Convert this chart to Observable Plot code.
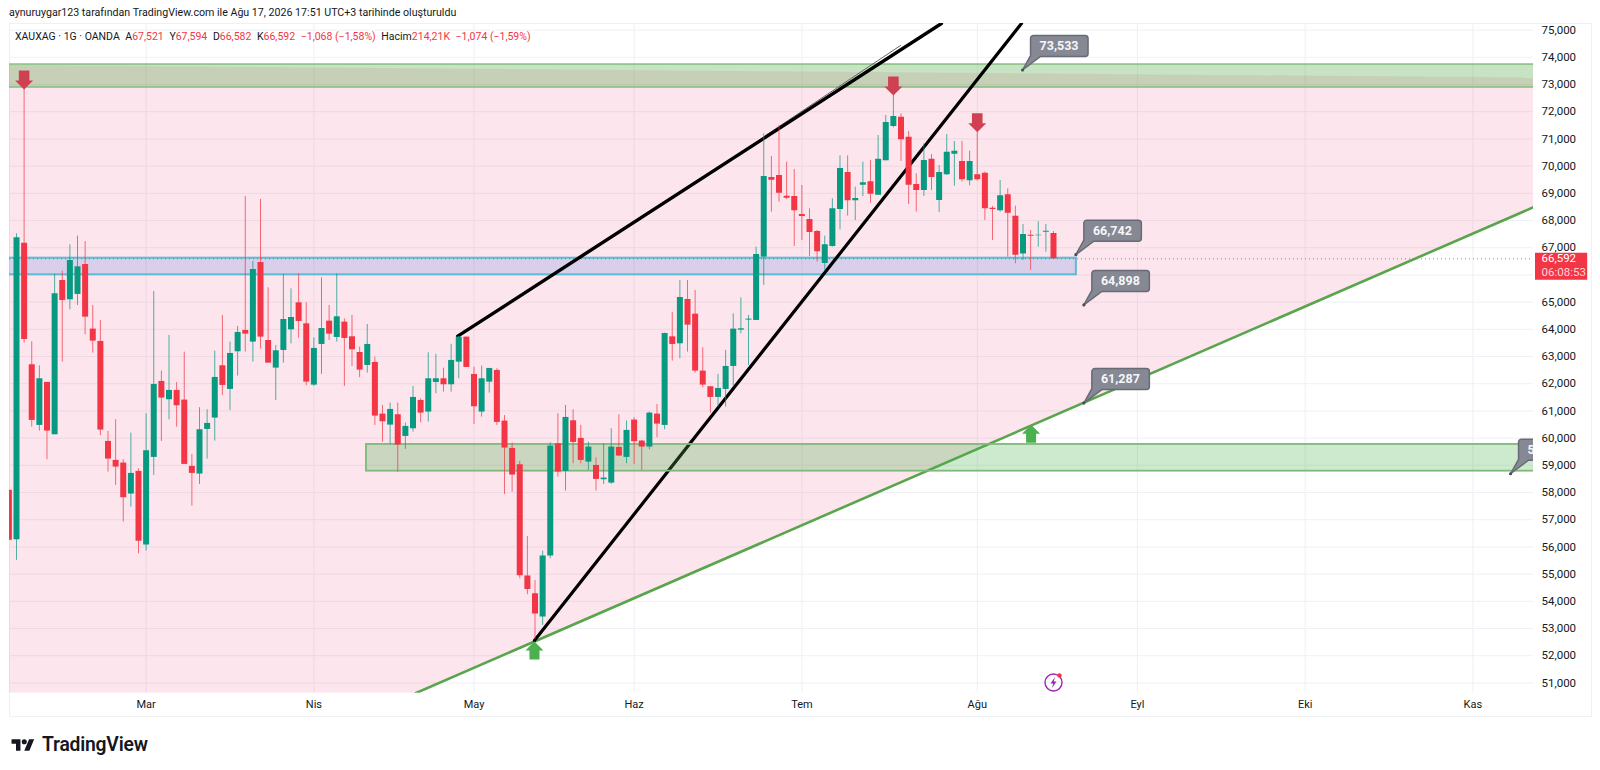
<!DOCTYPE html>
<html lang="tr">
<head>
<meta charset="utf-8">
<title>XAUXAG</title>
<script src="https://cdn.jsdelivr.net/npm/d3@7"></script>
<script src="https://cdn.jsdelivr.net/npm/@observablehq/plot@0.6"></script>
<style>
  html,body{margin:0;padding:0;background:#fff;width:1600px;height:770px;overflow:hidden;font-family:Roboto,sans-serif;color:#131722}
  #credit{position:absolute;left:9px;top:6px;font-size:10.65px;line-height:14px;white-space:nowrap;color:#131722}
  #frame{position:absolute;left:9px;top:23px;width:1583px;height:694px;box-sizing:border-box;border:1px solid #eef0f4;pointer-events:none}
  #chart{position:absolute;left:0;top:23px;width:1600px;height:694px}
  #legend{position:absolute;left:15px;top:30px;font-size:10.5px;line-height:14px;white-space:nowrap;color:#131722}
  #legend b{font-weight:400;color:#f23645}
  #legend span{margin-right:3px}
  #logo{position:absolute;left:11px;top:735px;display:flex;align-items:center;gap:7px;font-size:19.3px;font-weight:600;line-height:20px;letter-spacing:-.2px;color:#131722}
</style>
</head>
<body>
<div id="credit">aynuruygar123 tarafından TradingView.com ile Ağu 17, 2026 17:51 UTC+3 tarihinde oluşturuldu</div>
<div id="frame"></div>
<div id="chart"></div>
<div id="legend"><span>XAUXAG · 1G · OANDA</span> <span>A<b>67,521</b></span> <span>Y<b>67,594</b></span> <span>D<b>66,582</b></span> <span>K<b>66,592</b></span> <span><b>−1,068 (−1,58%)</b></span> <span>Hacim<b>214,21K</b></span> <span><b>−1,074 (−1,59%)</b></span></div>
<div id="logo"><svg width="24" height="14" viewBox="0 2 36 22"><path d="M14 22H7V11H0V4h14v18zM28 22h-8l7.5-18h8L28 22z" fill="#131722"/><circle cx="20" cy="8" r="4" fill="#131722"/></svg><span>TradingView</span></div>
<script>
// Bar index 0 is the first (cut-off) daily bar on the pane; bars are trading days.
const opens = [58080,56265,67167,62696,60466,62046,60123,65795,65085,65281,66383,64007,63553,59878,59180,59082,57943,58776,56069,59290,62083,61410,61753,61397,58960,58678,60319,60736,62659,61789,63174,63958,63529,66456,63589,62573,63222,63981,64974,64202,61948,63443,64300,63700,64263,63724,63148,62671,62781,60882,60478,60858,60062,60343,61384,60956,62046,62181,61960,62793,63712,62340,60956,62058,62487,60625,59620,59020,54927,54277,53420,55662,59792,58775,60637,59988,59118,58996,58469,58346,59657,59290,60662,59890,59670,60882,60466,63724,63467,65096,64557,62463,61887,61495,61789,62634,63969,64337,64325,66653,69581,69655,68895,68883,68221,68038,67597,66421,67046,68405,69765,68724,69300,69422,68932,70194,71455,71798,71063,69324,69104,70255,68736,69679,70439,70169,69459,69679,69741,68454,68356,68944,68160,66764,67462,67437,67572,67521];
const highs = [58080,67510,72850,63541,62659,62046,66016,66138,67106,67424,67228,64876,64325,60246,60674,59205,60185,58874,60895,65391,62463,63774,62046,63161,59400,61116,61042,63198,64509,63529,64105,68882,66493,68772,65525,63406,66015,65488,66040,64974,63688,65893,64876,66040,64386,64508,63345,64177,62977,61201,61287,61287,60552,61899,61446,63136,63075,62573,63443,63737,63712,62609,62646,62560,62548,60833,59817,59143,56385,54767,55845,59829,60895,61201,61042,60466,59853,59278,59792,60343,60858,60625,60748,59915,60956,61238,63859,64618,65795,65795,65427,63320,61899,62340,63222,64570,65157,64508,67021,71186,70353,71492,70145,69875,69287,68430,67633,67425,68797,70378,70378,69226,70145,70206,71125,71860,72595,71921,71272,69716,70818,70427,70022,71162,70904,70904,70549,71247,69777,68516,69471,69165,68528,67854,67633,67952,67854,67594];
const lows = [56240,55505,63492,60405,60258,59205,60123,62794,64717,64876,63798,63125,60087,58751,58261,56914,57465,55750,55848,58629,59878,60674,60405,59033,57502,58298,59229,59890,61569,61018,62279,63161,62794,63272,62756,61385,62756,63467,63675,61924,61899,62340,63590,63528,61899,62634,62217,62389,60466,59853,59767,58751,59584,60221,60564,60588,61630,61691,61691,62181,62597,60503,60772,61654,60466,57930,58016,54831,54241,52599,53114,55564,58567,58053,59057,59057,58812,58053,58298,58298,59339,59057,59032,58812,59572,60012,60306,62830,62916,63161,62389,61850,60919,61139,61139,61874,63835,62671,64325,65612,68307,68675,68760,67046,67266,66678,66470,66163,67021,67658,68160,68001,68883,68638,68920,70194,71406,70169,68589,68307,68883,69104,68295,69655,69263,69410,69275,69447,68001,67266,68307,66653,66409,66531,66163,67021,66837,66582];
const closes = [56240,67363,63627,60650,62181,60258,65305,65060,66530,66297,64447,63566,60295,59229,58935,57808,58702,56203,59535,61973,61471,61753,61189,59033,58702,60307,60540,62230,61936,63112,63884,63823,66199,63713,62756,63210,64361,64435,64288,62058,63296,64030,63822,64459,63663,63247,62499,63443,60809,60600,61054,59743,60429,61495,60919,62181,62181,61960,62855,63712,62597,61152,62181,62560,60576,59633,58641,54941,54437,53530,55662,59706,58751,60760,59841,59180,59670,58481,58530,59670,59339,60282,59866,59670,60919,60515,63847,63443,65170,64153,62463,61948,61495,61825,62634,64006,64018,64374,66751,69618,69483,69006,68822,68356,68148,67560,66850,67107,68430,69912,68724,68810,69385,68969,70255,71603,71823,70965,69300,69104,70206,69581,69765,70512,70549,69496,70169,69496,68430,68405,68908,68271,66727,67486,67425,67462,67609,66592];

const monthBars = [18,40,61,82,104,127,148,170,192];
const monthNames = ["Mar","Nis","May","Haz","Tem","Ağu","Eyl","Eki","Kas"];
const priceTicks = [51000,52000,53000,54000,55000,56000,57000,58000,59000,60000,61000,62000,63000,64000,65000,66000,67000,68000,69000,70000,71000,72000,73000,74000,75000];
const priceLabels = priceTicks.filter(v=>v!==66000); // 66,000 is hidden by the last-price tag
const lastPrice = 66592;
const priceBoxLines = ["66,592","06:08:53"];

const channelBars = [0.082,53.33,199.95];
const channelTop = [73698,73578,73238];
const channelBottom = [50621,50621,68489];

const zoneNames = ["resistance","support box","lower box"];
const zoneFrom = [-2,-2,46.9];
const zoneTo = [202,140.0,202];
const zoneHigh = [73735,66614,59766];
const zoneLow = [72889,66004,58784];

const wedgeUpperBars = [58.87,122.3];
const wedgeUpperPrices = [63747,75243];
const wedgeThinBars = [99.23,116.93];
const wedgeThinPrices = [71125,74433];
const wedgeLowerBars = [68.93,132.8];
const wedgeLowerPrices = [52561,75243];
const trendBars = [53.33,199.95];
const trendPrices = [50621,68489];

const downBars = [2,116,127];
const downPrices = [72816,72595,71247];
const upBars = [68.93,134.06];
const upPrices = [52524,60490];

const noteBars = [132.94,139.93,140.98,140.98,196.94];
const notePrices = [73533,66742,64898,61287,58689];
const noteTexts = ["73,533","66,742","64,898","61,287","58,689"];

const boltBar = [137.0];
const boltPrice = [51017];

const candles = opens.map((o,i)=>({i,o,h:highs[i],l:lows[i],c:closes[i]}));
const up = candles.filter(d=>d.c>=d.o);
const down = candles.filter(d=>d.c<d.o);
const zip = (xs,ys)=>xs.map((x,k)=>({x,y:ys[k]}));
const channel = channelBars.map((x,k)=>({x,t:channelTop[k],b:channelBottom[k]}));
const zones = zoneNames.map((n,k)=>({n,x1:zoneFrom[k],x2:zoneTo[k],y1:zoneLow[k],y2:zoneHigh[k]}));
const notes = noteBars.map((x,k)=>({x,y:notePrices[k],t:noteTexts[k]}));

const RED="#f23645", GREEN="#089981";
const wickOpacity=.72;

const downArrow={draw(c){c.moveTo(0,0);c.lineTo(9,-9);c.lineTo(5.3,-9);c.lineTo(5.3,-19);c.lineTo(-5.3,-19);c.lineTo(-5.3,-9);c.lineTo(-9,-9);c.closePath();}};
const upArrow={draw(c){c.moveTo(0,0);c.lineTo(9,9);c.lineTo(5,9);c.lineTo(5,18);c.lineTo(-5,18);c.lineTo(-5,9);c.lineTo(-9,9);c.closePath();}};
const balloon={draw(c){const l=8,r=65.5,t=-34.5,b=-13.5,q=3;
  c.moveTo(l+q,t);c.lineTo(r-q,t);c.arcTo(r,t,r,t+q,q);c.lineTo(r,b-q);c.arcTo(r,b,r-q,b,q);
  c.lineTo(18,b);c.lineTo(0,0);c.lineTo(l,b-1);c.lineTo(l,t+q);c.arcTo(l,t,l+q,t,q);c.closePath();}};
const priceTag={draw(c){c.rect(1.5,-6,52.2,27);}};
const ring={draw(c){c.moveTo(8.5,0);c.arc(0,0,8.5,0,2*Math.PI);c.closePath();}};
const flash={draw(c){c.moveTo(1.5,-5.5);c.lineTo(-3,1);c.lineTo(-.3,1);c.lineTo(-1.5,5.5);c.lineTo(3,-1);c.lineTo(.3,-1);c.closePath();}};

const sharedFont={fontFamily:"Roboto, sans-serif"};
const paneEnd=199.95;

const plot=Plot.plot({
  width:1600,height:694,
  marginLeft:9,marginRight:67,marginTop:0,marginBottom:24.3,
  style:{background:"transparent",fontFamily:"Roboto, sans-serif"},
  x:{type:"linear",domain:[0.082,paneEnd],label:null,axis:null},
  y:{type:"linear",domain:[50621,75243],label:null,axis:null},
  marks:[
    Plot.gridY(priceTicks,{stroke:"#eef0f5",strokeOpacity:1}),
    Plot.gridX(monthBars,{stroke:"#eef0f5",strokeOpacity:1}),
    Plot.areaY(channel,{x:"x",y1:"b",y2:"t",fill:"#f23a78",fillOpacity:.135,clip:true}),
    Plot.rect(zones.slice(0,1),{x1:"x1",x2:"x2",y1:"y1",y2:"y2",fill:"#4a9e3c",fillOpacity:.3,stroke:"#7cbb74",strokeOpacity:.85,strokeWidth:1.6,clip:true}),
    Plot.rect(zones.slice(1,2),{x1:"x1",x2:"x2",y1:"y1",y2:"y2",fill:"#3f6fe0",fillOpacity:.19,stroke:"#5cbcd4",strokeWidth:2,clip:true}),
    Plot.ruleY([lastPrice],{stroke:RED,strokeOpacity:.8,strokeWidth:1,strokeDasharray:"1 3"}),
    Plot.line(zip(trendBars,trendPrices),{x:"x",y:"y",stroke:"#58a54c",strokeWidth:2.6,clip:true}),
    Plot.line(zip(wedgeThinBars,wedgeThinPrices),{x:"x",y:"y",stroke:"#666",strokeWidth:1,clip:true}),
    Plot.line(zip(wedgeUpperBars,wedgeUpperPrices),{x:"x",y:"y",stroke:"#000",strokeWidth:3.4,clip:true}),
    Plot.line(zip(wedgeLowerBars,wedgeLowerPrices),{x:"x",y:"y",stroke:"#000",strokeWidth:3.2,clip:true}),
    Plot.rect(zones.slice(2,3),{x1:"x1",x2:"x2",y1:"y1",y2:"y2",fill:"#4caf50",fillOpacity:.28,stroke:"#7fb97a",strokeWidth:1.8,clip:true}),
    Plot.ruleX(up,{x:"i",y1:"l",y2:"h",stroke:GREEN,strokeOpacity:wickOpacity,strokeWidth:1,clip:true}),
    Plot.ruleX(down,{x:"i",y1:"l",y2:"h",stroke:RED,strokeOpacity:wickOpacity,strokeWidth:1,clip:true}),
    Plot.ruleX(up,{x:"i",y1:"o",y2:"c",stroke:GREEN,strokeWidth:6,clip:true}),
    Plot.ruleX(down,{x:"i",y1:"o",y2:"c",stroke:RED,strokeWidth:6,clip:true}),
    Plot.dot(zip(downBars,downPrices),{x:"x",y:"y",symbol:downArrow,fill:"#cf4152",stroke:"none"}),
    Plot.dot(zip(upBars,upPrices),{x:"x",y:"y",symbol:upArrow,fill:"#4caf50",stroke:"none"}),
    Plot.dot(notes,{x:"x",y:"y",symbol:balloon,fill:"#868993",stroke:"#686b76",strokeWidth:1.5,clip:true}),
    Plot.dot(notes,{x:"x",y:"y",r:1.6,fill:"#4a4d57",stroke:"none"}),
    Plot.text(notes,{x:"x",y:"y",text:"t",dx:36.5,dy:-24,fill:"#f5f6fa",fontSize:12.5,fontWeight:700,clip:true}),
    Plot.dot(zip(boltBar,boltPrice),{x:"x",y:"y",symbol:ring,fill:"none",stroke:"#9c27b0",strokeWidth:1.4}),
    Plot.dot(zip(boltBar,boltPrice),{x:"x",y:"y",symbol:flash,fill:"#9c27b0",stroke:"none"}),
    Plot.dot(zip(boltBar,boltPrice),{x:"x",y:"y",r:2.2,dx:6,dy:-7,fill:RED,stroke:"none"}),
    Plot.axisY(priceLabels,{anchor:"right",tickSize:0,tickPadding:8,label:null,tickFormat:d3.format(","),fontSize:11.5,fill:"#131722",...sharedFont}),
    Plot.axisX(monthBars,{anchor:"bottom",tickSize:0,tickPadding:7,label:null,tickFormat:(d)=>monthNames[monthBars.indexOf(d)],fontSize:11,fill:"#131722",...sharedFont}),
    Plot.dot([lastPrice],{x:()=>paneEnd,y:d=>d,symbol:priceTag,fill:RED,stroke:"none"}),
    Plot.text([lastPrice],{x:()=>paneEnd,y:d=>d,text:()=>priceBoxLines[0],dx:8,textAnchor:"start",fill:"#fff",fontSize:11.5}),
    Plot.text([lastPrice],{x:()=>paneEnd,y:d=>d,text:()=>priceBoxLines[1],dx:8,dy:13.5,textAnchor:"start",fill:"#ffd5da",fontSize:11.5})
  ]
});
document.getElementById("chart").appendChild(plot);
</script>
</body>
</html>
